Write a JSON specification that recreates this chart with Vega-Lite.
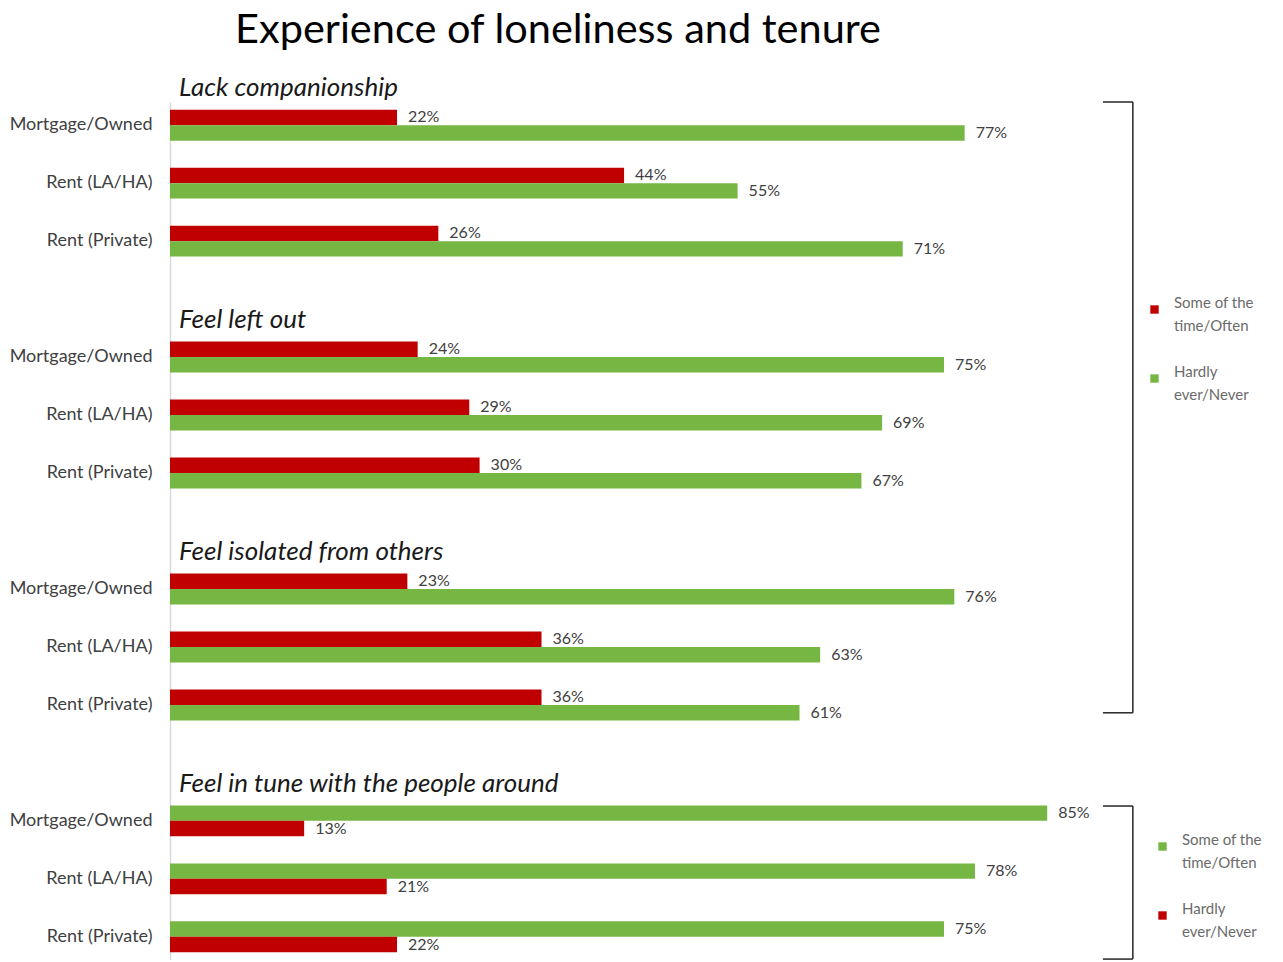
{
  "$schema": "https://vega.github.io/schema/vega-lite/v6.json",
  "width": 1032,
  "height": 858,
  "padding": {"left": 5, "top": 9, "right": 5, "bottom": 0},
  "background": "white",
  "title": {
    "text": "Experience of loneliness and tenure",
    "anchor": "start",
    "frame": "group",
    "dx": 65,
    "fontSize": 41.5,
    "font": "Lato",
    "fontWeight": "normal",
    "color": "#000000",
    "offset": 24
  },
  "config": {"view": {"stroke": null}, "font": "Lato"},
  "data": {
    "values": [
      {"group": "Lack companionship", "tenure": "Mortgage/Owned", "response": "Some of the time/Often", "pct": 22},
      {"group": "Lack companionship", "tenure": "Mortgage/Owned", "response": "Hardly ever/Never", "pct": 77},
      {"group": "Lack companionship", "tenure": "Rent (LA/HA)", "response": "Some of the time/Often", "pct": 44},
      {"group": "Lack companionship", "tenure": "Rent (LA/HA)", "response": "Hardly ever/Never", "pct": 55},
      {"group": "Lack companionship", "tenure": "Rent (Private)", "response": "Some of the time/Often", "pct": 26},
      {"group": "Lack companionship", "tenure": "Rent (Private)", "response": "Hardly ever/Never", "pct": 71},
      {"group": "Feel left out", "tenure": "Mortgage/Owned", "response": "Some of the time/Often", "pct": 24},
      {"group": "Feel left out", "tenure": "Mortgage/Owned", "response": "Hardly ever/Never", "pct": 75},
      {"group": "Feel left out", "tenure": "Rent (LA/HA)", "response": "Some of the time/Often", "pct": 29},
      {"group": "Feel left out", "tenure": "Rent (LA/HA)", "response": "Hardly ever/Never", "pct": 69},
      {"group": "Feel left out", "tenure": "Rent (Private)", "response": "Some of the time/Often", "pct": 30},
      {"group": "Feel left out", "tenure": "Rent (Private)", "response": "Hardly ever/Never", "pct": 67},
      {"group": "Feel isolated from others", "tenure": "Mortgage/Owned", "response": "Some of the time/Often", "pct": 23},
      {"group": "Feel isolated from others", "tenure": "Mortgage/Owned", "response": "Hardly ever/Never", "pct": 76},
      {"group": "Feel isolated from others", "tenure": "Rent (LA/HA)", "response": "Some of the time/Often", "pct": 36},
      {"group": "Feel isolated from others", "tenure": "Rent (LA/HA)", "response": "Hardly ever/Never", "pct": 63},
      {"group": "Feel isolated from others", "tenure": "Rent (Private)", "response": "Some of the time/Often", "pct": 36},
      {"group": "Feel isolated from others", "tenure": "Rent (Private)", "response": "Hardly ever/Never", "pct": 61},
      {"group": "Feel in tune with the people around", "tenure": "Mortgage/Owned", "response": "Some of the time/Often", "pct": 85},
      {"group": "Feel in tune with the people around", "tenure": "Mortgage/Owned", "response": "Hardly ever/Never", "pct": 13},
      {"group": "Feel in tune with the people around", "tenure": "Rent (LA/HA)", "response": "Some of the time/Often", "pct": 78},
      {"group": "Feel in tune with the people around", "tenure": "Rent (LA/HA)", "response": "Hardly ever/Never", "pct": 21},
      {"group": "Feel in tune with the people around", "tenure": "Rent (Private)", "response": "Some of the time/Often", "pct": 75},
      {"group": "Feel in tune with the people around", "tenure": "Rent (Private)", "response": "Hardly ever/Never", "pct": 22}
    ]
  },
  "transform": [
    {"calculate": "datum.group + '|' + datum.tenure", "as": "key"},
    {"calculate": "datum.pct + '%'", "as": "label"}
  ],
  "layer": [
    {
      "transform": [{"filter": "datum.group != 'Feel in tune with the people around'"}],
      "mark": {"type": "bar"},
      "encoding": {
        "x": {"field": "pct", "type": "quantitative", "scale": {"domain": [0, 100], "nice": false, "zero": true}, "axis": null},
        "y": {
          "field": "key", "type": "nominal",
          "scale": {"domain": ["Lack companionship|Mortgage/Owned", "Lack companionship|Rent (LA/HA)", "Lack companionship|Rent (Private)", "Feel left out|", "Feel left out|Mortgage/Owned", "Feel left out|Rent (LA/HA)", "Feel left out|Rent (Private)", "Feel isolated from others|", "Feel isolated from others|Mortgage/Owned", "Feel isolated from others|Rent (LA/HA)", "Feel isolated from others|Rent (Private)", "Feel in tune with the people around|", "Feel in tune with the people around|Mortgage/Owned", "Feel in tune with the people around|Rent (LA/HA)", "Feel in tune with the people around|Rent (Private)"], "paddingInner": 0.2, "paddingOuter": 0},
          "axis": {"title": null, "labelExpr": "split(datum.value, '|')[1]", "ticks": false, "labelPadding": 18, "labelFontSize": 18, "labelColor": "#404040", "labelFont": "Lato", "domainColor": "#d9d9d9", "domainWidth": 1.5, "minExtent": 165, "maxExtent": 165}
        },
        "yOffset": {"field": "response", "type": "nominal", "scale": {"domain": ["Some of the time/Often", "Hardly ever/Never"], "paddingInner": 0, "paddingOuter": 0.5}},
        "color": {
          "field": "response", "type": "nominal",
          "scale": {"domain": ["Some of the time/Often", "Hardly ever/Never"], "range": ["#C00000", "#76B743"]},
          "legend": {"orient": "none", "legendX": 977, "legendY": 200, "title": null, "symbolType": "square", "symbolSize": 70, "symbolStrokeWidth": 0, "labelFontSize": 15, "labelColor": "#6b6b6b", "labelFont": "Lato", "rowPadding": 30, "labelOffset": 12, "labelExpr": "datum.label == 'Some of the time/Often' ? ['Some of the', 'time/Often'] : ['Hardly', 'ever/Never']", "encode": {"labels": {"update": {"lineHeight": {"value": 23}, "dy": {"value": -7}}}}}
        }
      }
    },
    {
      "transform": [{"filter": "datum.group == 'Feel in tune with the people around'"}],
      "mark": {"type": "bar"},
      "encoding": {
        "x": {"field": "pct", "type": "quantitative"},
        "y": {"field": "key", "type": "nominal"},
        "yOffset": {"field": "response", "type": "nominal"},
        "color": {
          "field": "response", "type": "nominal",
          "scale": {"domain": ["Some of the time/Often", "Hardly ever/Never"], "range": ["#76B743", "#C00000"]},
          "legend": {"orient": "none", "legendX": 985, "legendY": 737, "title": null, "symbolType": "square", "symbolSize": 70, "symbolStrokeWidth": 0, "labelFontSize": 15, "labelColor": "#6b6b6b", "labelFont": "Lato", "rowPadding": 30, "labelOffset": 12, "labelExpr": "datum.label == 'Some of the time/Often' ? ['Some of the', 'time/Often'] : ['Hardly', 'ever/Never']", "encode": {"labels": {"update": {"lineHeight": {"value": 23}, "dy": {"value": -7}}}}}
        }
      }
    },
    {
      "mark": {"type": "text", "align": "left", "baseline": "middle", "dx": 11, "fontSize": 16, "color": "#404040", "font": "Lato"},
      "encoding": {
        "x": {"field": "pct", "type": "quantitative"},
        "y": {"field": "key", "type": "nominal"},
        "yOffset": {"field": "response", "type": "nominal"},
        "text": {"field": "label"}
      }
    },
    {
      "data": {
        "values": [
          {"header": "Lack companionship", "key": "Lack companionship|Mortgage/Owned"},
          {"header": "Feel left out", "key": "Feel left out|Mortgage/Owned"},
          {"header": "Feel isolated from others", "key": "Feel isolated from others|Mortgage/Owned"},
          {"header": "Feel in tune with the people around", "key": "Feel in tune with the people around|Mortgage/Owned"}
        ]
      },
      "mark": {"type": "text", "align": "left", "baseline": "middle", "dx": 9, "dy": -37, "fontSize": 26, "fontStyle": "italic", "color": "#1a1a1a", "font": "Lato"},
      "encoding": {
        "x": {"datum": 0, "type": "quantitative"},
        "y": {"field": "key", "type": "nominal"},
        "text": {"field": "header"}
      }
    },
    {
      "data": {"values": [{}]},
      "layer": [
        {"mark": {"type": "rule", "color": "#262626", "strokeWidth": 1.5}, "encoding": {"x": {"datum": 93.3, "type": "quantitative"}, "y": {"datum": "Lack companionship|Mortgage/Owned", "type": "nominal", "bandPosition": 0}, "y2": {"datum": "Feel isolated from others|Rent (Private)", "bandPosition": 0.67}}},
        {"mark": {"type": "rule", "color": "#262626", "strokeWidth": 1.5}, "encoding": {"x": {"datum": 90.4, "type": "quantitative"}, "x2": {"datum": 93.3}, "y": {"datum": "Lack companionship|Mortgage/Owned", "type": "nominal", "bandPosition": 0}}},
        {"mark": {"type": "rule", "color": "#262626", "strokeWidth": 1.5}, "encoding": {"x": {"datum": 90.4, "type": "quantitative"}, "x2": {"datum": 93.3}, "y": {"datum": "Feel isolated from others|Rent (Private)", "type": "nominal", "bandPosition": 0.67}}},
        {"mark": {"type": "rule", "color": "#262626", "strokeWidth": 1.5}, "encoding": {"x": {"datum": 93.3, "type": "quantitative"}, "y": {"datum": "Feel in tune with the people around|Mortgage/Owned", "type": "nominal", "bandPosition": 0.18}, "y2": {"datum": "Feel in tune with the people around|Rent (Private)", "bandPosition": 0.98}}},
        {"mark": {"type": "rule", "color": "#262626", "strokeWidth": 1.5}, "encoding": {"x": {"datum": 90.4, "type": "quantitative"}, "x2": {"datum": 93.3}, "y": {"datum": "Feel in tune with the people around|Mortgage/Owned", "type": "nominal", "bandPosition": 0.18}}},
        {"mark": {"type": "rule", "color": "#262626", "strokeWidth": 1.5}, "encoding": {"x": {"datum": 90.4, "type": "quantitative"}, "x2": {"datum": 93.3}, "y": {"datum": "Feel in tune with the people around|Rent (Private)", "type": "nominal", "bandPosition": 0.98}}}
      ]
    }
  ],
  "resolve": {"scale": {"color": "independent"}, "legend": {"color": "independent"}}
}
